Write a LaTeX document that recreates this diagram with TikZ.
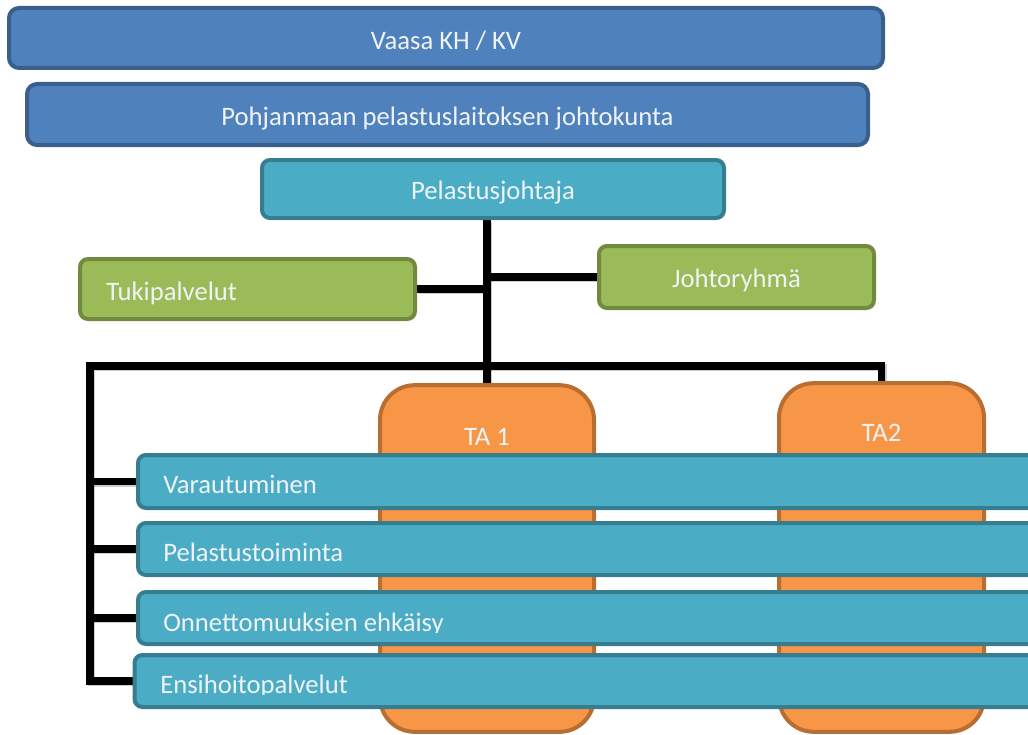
\documentclass[tikz,border=0pt]{standalone}
\usepackage{fontspec}
\setmainfont{Carlito}
\usetikzlibrary{calc,shadows}
\definecolor{dblueF}{HTML}{4F81BD}
\definecolor{dblueD}{HTML}{3A5F8C}
\definecolor{tealF}{HTML}{4BACC6}
\definecolor{tealD}{HTML}{367D90}
\definecolor{greenF}{HTML}{9BBB59}
\definecolor{greenD}{HTML}{72893F}
\definecolor{orangeF}{HTML}{F79646}
\definecolor{orangeD}{HTML}{B86D31}
\definecolor{txt}{HTML}{F0F3F6}
\pgfdeclarelayer{bg}
\pgfsetlayers{bg,main}
\begin{document}
\begin{tikzpicture}[x=0.75pt,y=-0.75pt,
  box/.style={draw, line width=3pt, font=\fontsize{20pt}{24pt}\selectfont, text=txt, inner sep=0pt,
    drop shadow={opacity=0.25, shadow xshift=1.2pt, shadow yshift=-1.2pt}},
  bluebox/.style={box, fill=dblueF, draw=dblueD, rounded corners=7.5pt},
  tealbox/.style={box, fill=tealF, draw=tealD, rounded corners=6pt},
  greenbox/.style={box, fill=greenF, draw=greenD, rounded corners=6pt},
  tabox/.style={box, fill=orangeF, draw=orangeD, rounded corners=26pt},
  rowtext/.style={anchor=base west, inner sep=0pt, text=txt, font=\fontsize{20pt}{24pt}\selectfont},
  conn/.style={line width=5.6pt, black, line join=miter,
    preaction={draw=black, opacity=0.2, line width=5.6pt, transform canvas={shift={(1.2pt,-1.2pt)}}}}]
\useasboundingbox (0,0) rectangle (1028,735);
\clip (0,0) rectangle (1028,735);

\node[bluebox, minimum width=655.5pt, minimum height=45pt] (vaasa) at (446,38) {};
\node[rowtext, anchor=base] (vaasaT) at (446,50) {Vaasa KH / KV};
\node[bluebox, minimum width=630.75pt, minimum height=45.75pt] (pohj) at (447.5,114.5) {};
\node[rowtext, anchor=base] (pohjT) at (447.5,126) {Pohjanmaan pelastuslaitoksen johtokunta};
\node[tealbox, minimum width=346.5pt, minimum height=43.5pt] (pj) at (493,189) {};
\node[rowtext, anchor=base] (pjT) at (493,199) {Pelastusjohtaja};
\node[greenbox, minimum width=251.25pt, minimum height=45pt] (tuki) at (247.5,289) {};
\node[rowtext] (tukiT) at (106,300) {Tukipalvelut};
\node[greenbox, minimum width=206.25pt, minimum height=46.5pt] (johto) at (736.5,277) {};
\node[rowtext, anchor=base] (johtoT) at (736.5,287) {Johtoryhmä};

\node[tabox, minimum width=160.5pt, minimum height=260pt] (ta1) at (487,558.5) {};
\node[rowtext, anchor=base] (ta1T) at (487,445) {TA 1};
\node[tabox, minimum width=153.75pt, minimum height=261.5pt] (ta2) at (881.5,557.5) {};
\node[rowtext, anchor=base] (ta2T) at (881.5,441) {TA2};

\node[tealbox, minimum width=735pt, minimum height=39.75pt] (var) at (628,481.5) {};
\node[rowtext] (varT) at (163,493) {Varautuminen};
\node[tealbox, minimum width=735pt, minimum height=39pt] (pel) at (628,549) {};
\node[rowtext] (pelT) at (163,561) {Pelastustoiminta};
\node[tealbox, minimum width=735pt, minimum height=39pt] (onn) at (628,618) {};
\begin{scope}
  \clip (140,595) rectangle (1028,632);
  \node[rowtext] (onnT) at (163,631) {Onnettomuuksien ehkäisy};
\end{scope}
\node[tealbox, minimum width=738pt, minimum height=39pt] (ens) at (626.5,681) {};
\begin{scope}
  \clip (140,660) rectangle (1028,694);
  \node[rowtext] (ensT) at (160,693) {Ensihoitopalvelut};
\end{scope}

\coordinate (bar) at (487,366);
\coordinate (leftx) at (90,366);
\begin{pgfonlayer}{bg}
  \draw[conn] (ta1.north |- pj.south) -- (ta1.north);
  \draw[conn] (tuki.east) -- (tuki.east -| ta1.north);
  \draw[conn] (johto.west) -- (johto.west -| ta1.north);
  \draw[conn] (ta2.north) -- (ta2.north |- bar) -- (leftx) -- (leftx |- ens.west) -- (ens.west);
  \draw[conn] (leftx |- var.west) -- (var.west);
  \draw[conn] (leftx |- pel.west) -- (pel.west);
  \draw[conn] (leftx |- onn.west) -- (onn.west);
\end{pgfonlayer}
\end{tikzpicture}
\end{document}
